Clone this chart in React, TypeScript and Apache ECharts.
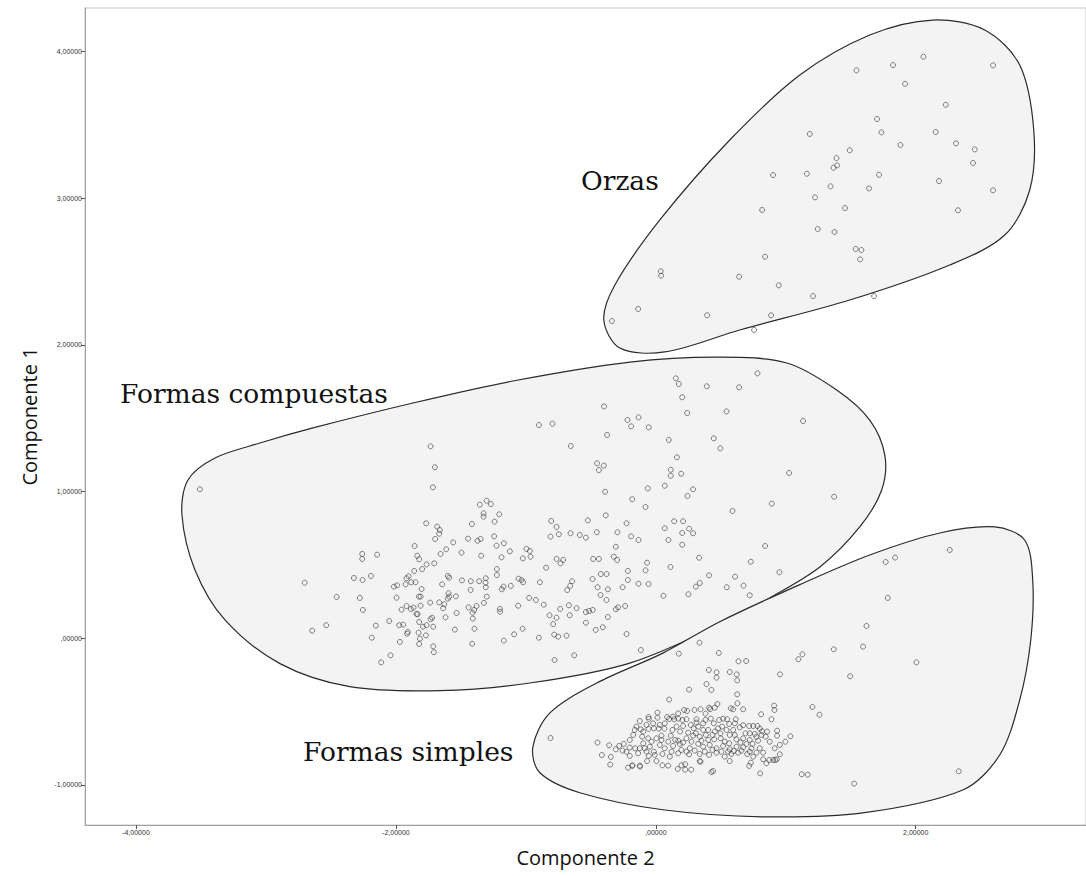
import React, { useEffect, useRef } from "react";
import * as echarts from "echarts";

// ---------- axis ticks ----------
const xTicks = [-4, -2, 0, 2];
const xTickLabels = ["-4,00000", "-2,00000", ",00000", "2,00000"];
const yTicks = [-1, 0, 1, 2, 3, 4];
const yTickLabels = ["-1,00000", ",00000", "1,00000", "2,00000", "3,00000", "4,00000"];

// ---------- groups (Componente 2, Componente 1) ----------
const orzas: number[][] = [
  [1.544, 3.872], [1.825, 3.908], [2.059, 3.965], [2.595, 3.906], [1.918, 3.78], [2.231, 3.637],
  [1.702, 3.54], [1.185, 3.438], [1.736, 3.449], [2.154, 3.451], [1.882, 3.363], [2.31, 3.374],
  [2.454, 3.333], [1.492, 3.327], [1.39, 3.274], [1.395, 3.224], [1.367, 3.208], [2.441, 3.24],
  [0.902, 3.158], [1.162, 3.167], [1.718, 3.16], [2.179, 3.117], [1.344, 3.081], [1.641, 3.067],
  [2.595, 3.054], [1.225, 3.006], [0.818, 2.92], [1.456, 2.933], [2.325, 2.918], [1.246, 2.79],
  [1.375, 2.77], [1.538, 2.654], [1.582, 2.647], [1.572, 2.583], [0.841, 2.601], [0.038, 2.502],
  [0.041, 2.472], [0.641, 2.465], [0.946, 2.406], [1.21, 2.333], [1.679, 2.333], [-0.136, 2.245],
  [0.395, 2.202], [0.887, 2.202], [-0.338, 2.163], [0.756, 2.102],
];

const formasCompuestas: number[][] = [
  [-3.508, 1.016], [-1.733, 1.309], [-1.7, 1.166], [-1.715, 1.029], [-0.9, 1.454], [-0.795, 1.463],
  [-0.654, 1.311], [-0.398, 1.581], [-0.375, 1.386], [-0.218, 1.488], [-0.452, 1.193], [-0.4, 1.177],
  [-0.438, 1.147], [-0.39, 0.999], [-0.385, 0.838], [-1.354, 0.911], [-1.302, 0.938], [-1.269, 0.915],
  [-1.325, 0.852], [-1.325, 0.829], [-1.205, 0.845], [-1.415, 0.779], [-1.241, 0.795], [-1.767, 0.784],
  [-1.682, 0.761], [-1.662, 0.738], [-1.667, 0.713], [-1.698, 0.677], [-1.444, 0.679], [-1.372, 0.665],
  [-1.348, 0.677], [-1.244, 0.695], [-1.559, 0.654], [-1.225, 0.631], [-1.169, 0.648], [-1.123, 0.593],
  [-0.995, 0.609], [-0.969, 0.595], [-1.023, 0.545], [-0.964, 0.556], [-0.805, 0.8], [-0.764, 0.759],
  [-0.81, 0.693], [-0.746, 0.709], [-0.656, 0.716], [-0.585, 0.704], [-0.538, 0.686], [-0.523, 0.804],
  [-0.454, 0.723], [-0.295, 0.723], [-0.482, 0.541], [-0.438, 0.541], [-0.308, 0.624], [-0.323, 0.556],
  [-0.298, 0.534], [-0.764, 0.541], [-0.713, 0.534], [-0.733, 0.511], [-0.844, 0.481], [-1.856, 0.629],
  [-1.656, 0.575], [-1.613, 0.607], [-1.495, 0.584], [-1.344, 0.563], [-1.187, 0.552], [-1.836, 0.563],
  [-1.821, 0.539], [-1.764, 0.504], [-1.705, 0.511], [-1.798, 0.472], [-1.859, 0.459], [-1.902, 0.423],
  [-1.918, 0.409], [-1.223, 0.472], [-1.223, 0.431], [-2.259, 0.575], [-2.259, 0.541], [-2.144, 0.57],
  [-2.323, 0.411], [-2.256, 0.397], [-2.192, 0.425], [-2.702, 0.379], [-2.456, 0.282], [-2.277, 0.275],
  [-2.254, 0.193], [-2.644, 0.052], [-2.536, 0.089], [-2.154, 0.086], [-2.185, 0.004], [-2.113, -0.164],
  [-2.041, -0.116], [-2.015, 0.352], [-1.99, 0.361], [-1.925, 0.368], [-1.882, 0.382], [-1.849, 0.382],
  [-1.802, 0.336], [-1.995, 0.277], [-1.956, 0.195], [-1.918, 0.22], [-1.885, 0.2], [-1.864, 0.209],
  [-1.833, 0.164], [-1.823, 0.284], [-1.81, 0.284], [-1.736, 0.243], [-1.667, 0.245], [-1.644, 0.368],
  [-1.59, 0.413], [-1.6, 0.425], [-1.492, 0.395], [-1.423, 0.389], [-1.359, 0.389], [-1.308, 0.409],
  [-1.31, 0.379], [-1.308, 0.348], [-1.425, 0.329], [-1.595, 0.307], [-1.59, 0.284], [-1.538, 0.286],
  [-1.6, 0.27], [-1.628, 0.232], [-1.636, 0.205], [-1.841, 0.166], [-1.81, 0.222], [-1.733, 0.13],
  [-1.721, 0.14], [-1.764, 0.089], [-1.821, 0.111], [-1.713, 0.079], [-1.792, 0.079], [-1.825, 0.038],
  [-1.815, -0.003], [-1.821, -0.039], [-1.769, 0.02], [-1.713, -0.055], [-1.708, -0.095], [-1.618, 0.143],
  [-1.546, 0.059], [-1.533, 0.172], [-1.441, 0.211], [-1.379, 0.22], [-1.398, 0.193], [-1.41, 0.175],
  [-1.408, 0.134], [-1.395, 0.065], [-1.413, -0.037], [-1.3, 0.284], [-1.323, 0.241], [-1.2, 0.2],
  [-1.198, 0.181], [-1.185, 0.334], [-1.172, 0.352], [-1.115, 0.357], [-1.056, 0.406], [-1.033, 0.397],
  [-1.021, 0.382], [-1.059, 0.222], [-0.975, 0.275], [-0.923, 0.261], [-0.862, 0.229], [-0.892, 0.382],
  [-1.09, 0.027], [-1.025, 0.065], [-0.9, 0.004], [-0.818, 0.157], [-0.764, 0.14], [-0.79, 0.097],
  [-0.736, 0.2], [-0.669, 0.225], [-0.662, 0.157], [-0.61, 0.205], [-0.682, 0.329], [-0.659, 0.357],
  [-0.644, 0.389], [-0.782, 0.025], [-0.751, 0.011], [-0.687, 0.018], [-0.779, -0.148], [-0.628, -0.116],
  [-0.538, 0.179], [-0.513, 0.186], [-0.485, 0.193], [-0.538, 0.106], [-0.462, 0.057], [-0.408, 0.075],
  [-0.487, 0.404], [-0.448, 0.348], [-0.423, 0.438], [-0.379, 0.438], [-0.369, 0.334], [-0.425, 0.295],
  [-0.379, 0.261], [-0.369, 0.145], [-0.308, 0.198], [-0.29, 0.211], [-0.236, 0.22], [-0.256, 0.348],
  [-0.225, 0.029], [-0.215, 0.397], [-1.169, -0.016], [-1.974, 0.089], [-1.944, 0.093], [-1.908, 0.043],
  [-1.913, 0.031], [-1.969, -0.025], [-2.051, 0.118], [-0.215, 0.459], [-0.225, 0.784],
  [0.154, 1.772], [0.177, 1.734], [0.392, 1.718], [0.641, 1.711], [0.782, 1.806], [0.203, 1.643],
  [0.241, 1.536], [0.544, 1.547], [1.133, 1.481], [-0.133, 1.506], [-0.19, 1.445], [-0.054, 1.438],
  [0.1, 1.352], [0.446, 1.363], [0.497, 1.295], [0.162, 1.234], [0.115, 1.149], [0.115, 1.108],
  [0.195, 1.122], [1.026, 1.127], [-0.062, 1.022], [0.069, 1.04], [0.287, 1.016], [0.244, 0.97],
  [1.372, 0.965], [-0.182, 0.948], [-0.079, 0.895], [0.892, 0.918], [0.59, 0.868], [0.141, 0.798],
  [0.21, 0.798], [0.069, 0.75], [0.203, 0.718], [0.256, 0.747], [0.287, 0.716], [-0.19, 0.695],
  [-0.133, 0.67], [0.097, 0.67], [0.203, 0.638], [0.841, 0.629], [0.333, 0.549], [-0.067, 0.515],
  [0.113, 0.486], [0.731, 0.522], [-0.079, 0.463], [0.951, 0.45], [0.41, 0.429], [0.61, 0.42],
  [-0.133, 0.372], [-0.056, 0.37], [0.338, 0.377], [0.308, 0.352], [0.546, 0.348], [0.675, 0.359],
  [0.059, 0.29], [0.251, 0.3], [0.723, 0.293], [-0.115, -0.08],
];

const formasSimples: number[][] = [
  [1.769, 0.52], [1.841, 0.55], [2.262, 0.602], [1.785, 0.275],
  [1.621, 0.084], [1.369, -0.075], [1.595, -0.057], [2.005, -0.164], [1.128, -0.109], [1.097, -0.143],
  [1.495, -0.259], [0.956, -0.246], [0.336, -0.03], [0.177, -0.105], [0.485, -0.1], [0.636, -0.157],
  [0.695, -0.155], [0.408, -0.216], [0.467, -0.232], [0.467, -0.268], [0.569, -0.23], [0.623, -0.246],
  [0.626, -0.287], [0.39, -0.312], [0.428, -0.352], [0.256, -0.35], [0.626, -0.382], [0.103, -0.418],
  [1.205, -0.468], [1.259, -0.521], [-0.81, -0.68], [-0.449, -0.711], [-0.359, -0.73], [-0.415, -0.796],
  [-0.346, -0.809], [-0.351, -0.861], [0.803, -0.921], [1.123, -0.927], [1.169, -0.93], [1.526, -0.991],
  [2.331, -0.907], [0.91, -0.459], [0.913, -0.489], [0.89, -0.552], [0.81, -0.518], [1.036, -0.668],
  [0.997, -0.705], [0.954, -0.727], [0.954, -0.791], [0.931, -0.825], [0.918, -0.83], [0.851, -0.852],
  [0.826, -0.825], [0.718, -0.87], [0.731, -0.848], [0.441, -0.905], [0.428, -0.912], [0.344, -0.841],
  [0.226, -0.859], [0.169, -0.891], [0.226, -0.896], [0.272, -0.896], [-0.213, -0.882], [-0.182, -0.868],
  [-0.121, -0.875],
  [0.218, -0.489], [0.241, -0.496], [0.297, -0.489], [0.344, -0.484], [0.382, -0.514], [0.41, -0.473],
  [0.418, -0.484], [0.454, -0.473], [0.474, -0.448], [0.577, -0.477], [0.595, -0.484], [0.672, -0.484],
  [0.628, -0.443], [0.013, -0.507], [-0.123, -0.564], [-0.056, -0.537], [-0.054, -0.55], [0.013, -0.541],
  [0.087, -0.537], [0.103, -0.55], [0.141, -0.552], [0.172, -0.548], [0.205, -0.557], [0.236, -0.552],
  [0.313, -0.552], [0.364, -0.58], [0.423, -0.548], [0.487, -0.557], [0.518, -0.548], [0.549, -0.552],
  [0.615, -0.552], [0.51, -0.602], [0.672, -0.593], [0.749, -0.598], [0.782, -0.598], [0.8, -0.616],
  [0.818, -0.634], [0.856, -0.636], [0.933, -0.63], [0.933, -0.664],
  [-0.162, -0.625], [-0.115, -0.621], [-0.097, -0.636], [-0.056, -0.618], [-0.015, -0.614], [0.023, -0.616],
  [0.067, -0.616], [0.128, -0.625], [0.187, -0.636], [0.249, -0.643], [0.292, -0.614], [0.326, -0.602],
  [0.364, -0.625], [0.403, -0.625], [0.454, -0.636], [0.479, -0.614], [0.544, -0.625], [0.595, -0.625],
  [0.646, -0.607], [0.69, -0.648], [0.723, -0.648], [0.762, -0.652],
  [-0.174, -0.659], [-0.105, -0.671], [-0.059, -0.682], [0.005, -0.682], [0.044, -0.664], [0.115, -0.664],
  [0.172, -0.698], [0.236, -0.682], [0.287, -0.664], [0.338, -0.671], [0.385, -0.659], [0.449, -0.689],
  [0.5, -0.682], [0.569, -0.659], [0.621, -0.689], [0.672, -0.682], [0.723, -0.693], [0.787, -0.698],
  [-0.282, -0.734], [-0.246, -0.72], [-0.2, -0.745], [-0.159, -0.75], [-0.123, -0.75], [-0.085, -0.75],
  [-0.046, -0.739], [0.031, -0.727], [0.069, -0.75], [0.133, -0.734], [0.185, -0.72], [0.262, -0.75],
  [0.326, -0.72], [0.364, -0.739], [0.415, -0.727], [0.467, -0.75], [0.518, -0.734], [0.569, -0.757],
  [0.621, -0.739], [0.672, -0.743], [0.736, -0.75], [0.8, -0.75],
  [-0.256, -0.766], [-0.2, -0.802], [-0.136, -0.784], [-0.054, -0.802], [-0.008, -0.795], [0.051, -0.789],
  [0.108, -0.807], [0.172, -0.784], [0.256, -0.791], [0.338, -0.789], [0.41, -0.795], [0.467, -0.78],
  [0.531, -0.807], [0.582, -0.789], [0.633, -0.78], [0.703, -0.789], [0.749, -0.807], [0.826, -0.78],
  [0.872, -0.83],
  [-0.179, -0.868], [-0.123, -0.868], [-0.067, -0.837], [0.005, -0.837], [0.051, -0.866], [0.095, -0.868],
  [0.197, -0.866], [0.338, -0.837], [0.569, -0.837], [0.903, -0.83],
  [-0.097, -0.716], [-0.033, -0.705], [0.044, -0.693], [0.095, -0.705], [0.149, -0.693], [0.21, -0.711],
  [0.274, -0.705], [0.308, -0.648], [0.351, -0.698], [0.403, -0.693], [0.436, -0.659], [0.497, -0.648],
  [0.531, -0.705], [0.564, -0.716], [0.608, -0.659], [0.651, -0.711], [0.697, -0.72], [0.744, -0.72],
  [0.774, -0.671], [0.813, -0.659], [0.846, -0.671], [0.877, -0.705], [0.915, -0.75], [0.197, -0.761],
  [0.236, -0.773], [0.3, -0.766], [0.377, -0.773], [0.436, -0.761], [0.505, -0.773], [0.556, -0.773],
  [0.6, -0.768], [0.659, -0.766], [0.723, -0.773], [0.774, -0.78], [0.159, -0.602], [0.21, -0.598],
  [0.269, -0.591], [0.313, -0.575], [0.382, -0.557], [0.446, -0.58], [0.564, -0.584], [0.608, -0.58],
  [0.718, -0.598], [0.172, -0.512], [0.133, -0.534], [0.069, -0.58], [0.031, -0.591], [-0.021, -0.58],
  [-0.072, -0.591], [-0.149, -0.602], [-0.2, -0.693], [-0.226, -0.773], [-0.308, -0.757], [0.121, -0.773],
  [-0.072, -0.773], [-0.015, -0.773],
];

// ---------- group outlines (Componente 2, Componente 1) ----------
const hullOrzas: number[][] = [
  [2.131, 4.215], [2.531, 4.147], [2.8, 3.908], [2.908, 3.465], [2.877, 3.056], [2.685, 2.749],
  [2.262, 2.545], [1.492, 2.306], [0.646, 2.102], [0.069, 1.952], [-0.277, 1.979], [-0.4, 2.17],
  [-0.315, 2.409], [0.031, 2.852], [0.569, 3.397], [1.108, 3.84], [1.646, 4.113],
];
const hullCompuestas: number[][] = [
  [-3.646, 0.84], [-3.6, 1.079], [-3.392, 1.229], [-3.046, 1.331], [-2.638, 1.434], [-1.869, 1.604],
  [-1.1, 1.754], [-0.2, 1.883], [0.492, 1.917], [1.008, 1.877], [1.392, 1.693], [1.646, 1.488],
  [1.762, 1.249], [1.738, 1.011], [1.569, 0.759], [1.262, 0.486], [0.877, 0.275], [0.492, 0.091],
  [-0.2, -0.169], [-0.969, -0.305], [-1.662, -0.357], [-2.354, -0.33], [-2.892, -0.173], [-3.315, 0.125],
  [-3.546, 0.466],
];
const hullSimples: number[][] = [
  [-0.946, -0.741], [-0.815, -0.509], [-0.454, -0.305], [0.054, -0.101], [0.492, 0.113], [1.108, 0.366],
  [1.646, 0.568], [2.185, 0.718], [2.608, 0.759], [2.838, 0.67], [2.9, 0.397], [2.885, -0.012],
  [2.8, -0.421], [2.646, -0.796], [2.362, -1.034], [1.592, -1.19], [0.823, -1.217], [0.054, -1.169],
  [-0.585, -1.053], [-0.892, -0.917],
];
const hulls = [hullOrzas, hullCompuestas, hullSimples];

const groupNames = ["Orzas", "Formas compuestas", "Formas simples"];

function fmt(ticks: number[], labels: string[]) {
  return (v: number) => {
    const i = ticks.findIndex((t) => Math.abs(t - v) < 1e-9);
    return i >= 0 ? labels[i] : "";
  };
}

export default function App() {
  const ref = useRef<HTMLDivElement>(null);

  useEffect(() => {
    document.body.style.margin = "0";
    if (!ref.current) return;
    const chart = echarts.init(ref.current, null, { renderer: "svg" });

    const pointStyle = {
      color: "rgba(0,0,0,0)",
      borderColor: "#3a3a3a",
      borderWidth: 0.8,
    };
    const scatter = (name: string, data: number[][]) => ({
      type: "scatter",
      name,
      data,
      symbol: "circle",
      symbolSize: 5,
      itemStyle: pointStyle,
      z: 3,
      silent: true,
    });

    const labelFont = { fontSize: 26.5, fontFamily: "DejaVu Serif", fill: "#111", verticalAlign: "middle" };

    chart.setOption({
      animation: false,
      backgroundColor: "#ffffff",
      textStyle: { fontFamily: "Liberation Sans" },
      grid: {
        left: 85,
        top: 8,
        right: 0,
        bottom: 51,
        show: true,
        borderColor: "#c8c8c8",
        borderWidth: 1,
        backgroundColor: "#ffffff",
      },
      xAxis: {
        type: "value",
        min: -4.392,
        max: 3.31,
        splitLine: { show: false },
        axisLine: { show: true, onZero: false, lineStyle: { color: "#a0a0a0", width: 1 } },
        axisTick: { show: true, customValues: xTicks, length: 4, lineStyle: { color: "#555" } },
        axisLabel: {
          customValues: xTicks,
          formatter: fmt(xTicks, xTickLabels),
          fontSize: 7,
          color: "#333",
          margin: 4,
          fontFamily: "Liberation Sans Narrow, Liberation Sans",
        },
        name: "Componente 2",
        nameLocation: "middle",
        nameGap: 22,
        nameTextStyle: { fontSize: 20, color: "#111", fontFamily: "Open Sans" },
      },
      yAxis: {
        type: "value",
        min: -1.273,
        max: 4.297,
        splitLine: { show: false },
        axisLine: { show: true, onZero: false, lineStyle: { color: "#a0a0a0", width: 1 } },
        axisTick: { show: true, customValues: yTicks, length: 4, lineStyle: { color: "#555" } },
        axisLabel: {
          customValues: yTicks,
          formatter: fmt(yTicks, yTickLabels),
          fontSize: 7,
          color: "#333",
          margin: 3,
          fontFamily: "Liberation Sans Narrow, Liberation Sans",
        },
        name: "Componente 1",
        nameLocation: "middle",
        nameGap: 46,
        nameRotate: 90,
        nameTextStyle: { fontSize: 20, color: "#111", fontFamily: "Open Sans" },
      },
      series: [
        {
          type: "custom",
          name: "hulls",
          silent: true,
          z: 1,
          data: hulls.map((h) => h[0]),
          renderItem: (params: any, api: any) => {
            const hull = hulls[params.dataIndex];
            const pts = hull.map((p) => api.coord(p));
            return {
              type: "polygon",
              shape: { points: pts, smooth: 0.32 },
              style: { fill: "#f3f3f3", stroke: "#2a2a2a", lineWidth: 1.2 },
            };
          },
        },
        scatter(groupNames[0], orzas),
        scatter(groupNames[1], formasCompuestas),
        scatter(groupNames[2], formasSimples),
      ],
      graphic: [
        { type: "text", x: 581, y: 180, style: { ...labelFont, text: "Orzas" } },
        { type: "text", x: 120, y: 393, style: { ...labelFont, text: "Formas compuestas" } },
        { type: "text", x: 303, y: 751, style: { ...labelFont, text: "Formas simples" } },
      ],
    });

    return () => chart.dispose();
  }, []);

  return <div ref={ref} style={{ width: 1086, height: 876 }} />;
}
